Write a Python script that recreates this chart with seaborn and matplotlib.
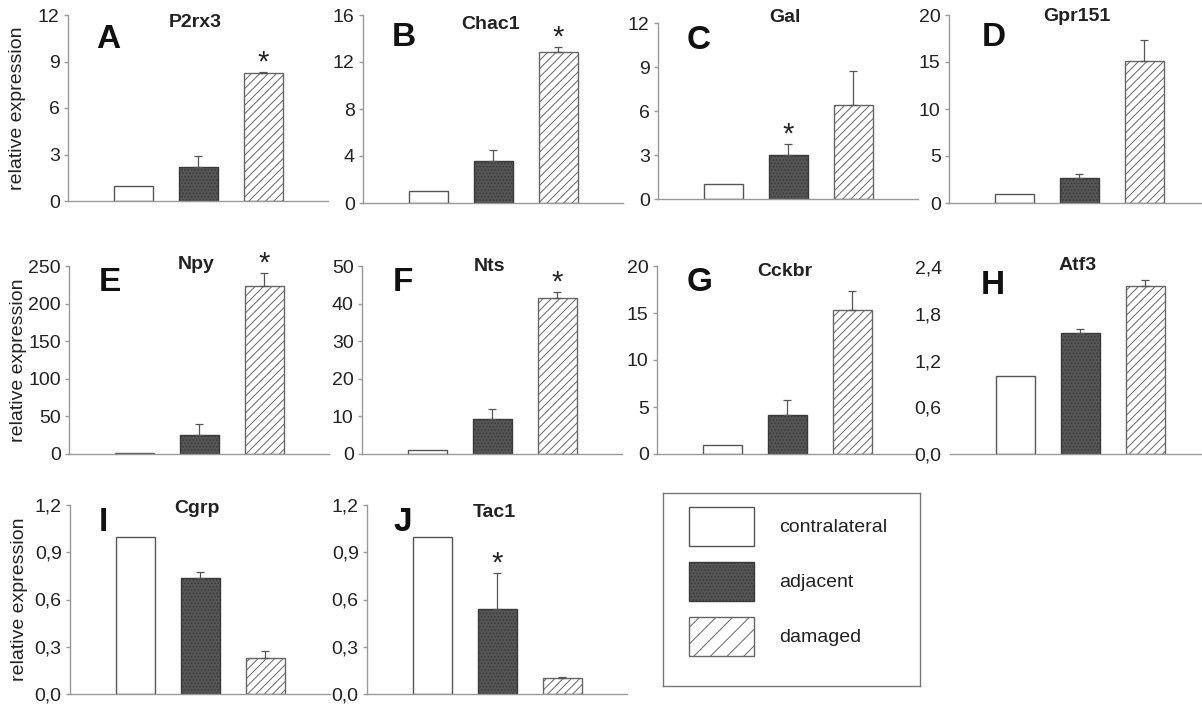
import numpy as np
import pandas as pd
import matplotlib
matplotlib.use("Agg")
import matplotlib.pyplot as plt
import seaborn as sns
from matplotlib.patches import Patch

# ---------------- data ----------------
genes = ["P2rx3", "Chac1", "Gal", "Gpr151", "Npy", "Nts", "Cckbr", "Atf3", "Cgrp", "Tac1"]
letters = ["A", "B", "C", "D", "E", "F", "G", "H", "I", "J"]
groups = ["contralateral", "adjacent", "damaged"]

contralateral = [1.0, 1.0, 1.0, 1.0, 1.0, 1.0, 1.0, 1.0, 1.0, 1.0]
adjacent = [2.2, 3.6, 3.0, 2.67, 25.0, 9.3, 4.1, 1.55, 0.735, 0.54]
damaged = [8.28, 12.85, 6.43, 15.1, 223.0, 41.6, 15.3, 2.16, 0.23, 0.10]
adjacent_err = [0.68, 0.95, 0.75, 0.38, 14.5, 2.6, 1.6, 0.06, 0.038, 0.227]
damaged_err = [0.05, 0.45, 2.27, 2.2, 18.0, 1.5, 2.0, 0.075, 0.043, 0.007]
star_group = ["damaged", "damaged", "adjacent", None, "damaged", "damaged", None, None, None, "adjacent"]

y_max = [12, 16, 12, 20, 250, 50, 20, 2.4, 1.2, 1.2]
y_step = [3, 4, 3, 5, 50, 10, 5, 0.6, 0.3, 0.3]
comma_decimals = [False, False, False, False, False, False, False, True, True, True]

# ---------------- layout (pixels) ----------------
W, H = 1202, 704
# left, top, bottom, title_y, letter_x, letter_y
layout = [
    (68, 15, 201, 0.96, 0.11, 0.87),
    (363, 15, 203, 0.95, 0.11, 0.88),
    (658, 23, 199, 1.03, 0.11, 0.90),
    (949, 15, 203, 0.99, 0.125, 0.88),
    (69, 266, 454, 1.01, 0.115, 0.91),
    (362, 266, 454, 0.995, 0.12, 0.91),
    (657, 266, 454, 0.97, 0.115, 0.91),
    (950, 267, 454, 1.01, 0.12, 0.90),
    (70, 505, 694, 0.98, 0.11, 0.91),
    (367, 505, 694, 0.96, 0.10, 0.905),
]
ylabel_panels = {0, 4, 8}
no_left_spine = {7}

sns.set_theme(style="white")
plt.rcParams["font.family"] = ["Liberation Sans", "DejaVu Sans"]
plt.rcParams["hatch.linewidth"] = 0.7

palette = {"contralateral": "#ffffff", "adjacent": "#555555", "damaged": "#ffffff"}
edge = {"contralateral": "#555555", "adjacent": "#3a3a3a", "damaged": "#666666"}
hatch = {"contralateral": None, "adjacent": ".....", "damaged": "////"}

axis_col = "#999999"
text_col = "#222222"

fig = plt.figure(figsize=(W / 100, H / 100), dpi=100)

for i, gene in enumerate(genes):
    L, T, B, ty, lx, ly = layout[i]
    ax = fig.add_axes([L / W, 1 - B / H, 260 / W, (B - T) / H])
    vals = [contralateral[i], adjacent[i], damaged[i]]
    df = pd.DataFrame({"group": groups, "value": vals})
    sns.barplot(data=df, x="group", y="value", hue="group", order=groups,
                hue_order=groups, palette=palette, width=0.6, errorbar=None,
                legend=False, ax=ax, linewidth=1.0, saturation=1)
    for cont, g in zip(ax.containers, groups):
        for p in cont:
            p.set_edgecolor(edge[g])
            if hatch[g]:
                p.set_hatch(hatch[g])
    errs = [adjacent_err[i], damaged_err[i]]
    ax.errorbar([1, 2], vals[1:], yerr=[[0, 0], errs], fmt="none",
                ecolor="#555555", elinewidth=0.9, capsize=3, capthick=0.9)
    if star_group[i] is not None:
        k = groups.index(star_group[i])
        top = vals[k] + (errs[k - 1] if k > 0 else 0)
        ax.annotate("*", xy=(k, top), xytext=(0, 1), textcoords="offset points",
                    ha="center", va="baseline", fontsize=21, color=text_col)

    ax.set_xlim(-1, 3)
    ax.set_ylim(0, y_max[i])
    ticks = np.arange(0, y_max[i] + y_step[i] / 2, y_step[i])
    ax.set_yticks(ticks)
    if comma_decimals[i]:
        labels = [f"{t:.1f}".replace(".", ",") for t in ticks]
    else:
        labels = [f"{t:g}" for t in ticks]
    ax.set_yticklabels(labels)
    ax.set_xticks([])
    ax.set_xlabel("")
    if i in ylabel_panels:
        ax.set_ylabel("relative expression", fontsize=14, color=text_col)
        ax.yaxis.set_label_coords(-0.16, 0.5)
    else:
        ax.set_ylabel("")
    for s in ["top", "right"]:
        ax.spines[s].set_visible(False)
    for s in ["left", "bottom"]:
        ax.spines[s].set_color(axis_col)
        ax.spines[s].set_linewidth(1.0)
    if i in no_left_spine:
        ax.spines["left"].set_visible(False)
        ax.tick_params(axis="y", length=0, pad=6)
    else:
        ax.tick_params(axis="y", length=3, width=1, color=axis_col, pad=3)
    ax.tick_params(axis="y", labelsize=14, labelcolor=text_col, left=True)
    ax.set_facecolor("none")
    ax.text(0.49, ty, gene, transform=ax.transAxes, ha="center", va="center",
            fontsize=14, fontweight="bold", color=text_col)
    ax.text(lx, ly, letters[i], transform=ax.transAxes, ha="left", va="center",
            fontsize=24, fontweight="bold", color="#111111")

# ---------------- legend box ----------------
bl, bt, br, bb = 663, 493, 920, 686
lax = fig.add_axes([bl / W, 1 - bb / H, (br - bl) / W, (bb - bt) / H])
lax.set_xticks([])
lax.set_yticks([])
for s in lax.spines.values():
    s.set_color("#777777")
    s.set_linewidth(1.0)
    s.set_visible(True)
legend_hatch = {"contralateral": None, "adjacent": ".....", "damaged": "//"}
handles = [Patch(facecolor=palette[g], edgecolor=edge[g], hatch=legend_hatch[g],
                 label=g, linewidth=1.0) for g in groups]
fs_px = 14 * 100 / 72
lax.legend(handles=handles, loc="upper left",
           bbox_to_anchor=((689 - bl) / (br - bl), 1 - (507 - bt) / (bb - bt)),
           frameon=False, fontsize=14, handlelength=65 / fs_px,
           handleheight=2.7, labelspacing=0.83,
           handletextpad=25 / fs_px, borderpad=0, borderaxespad=0,
           labelcolor=text_col)

fig.savefig("out.png", dpi=100)
